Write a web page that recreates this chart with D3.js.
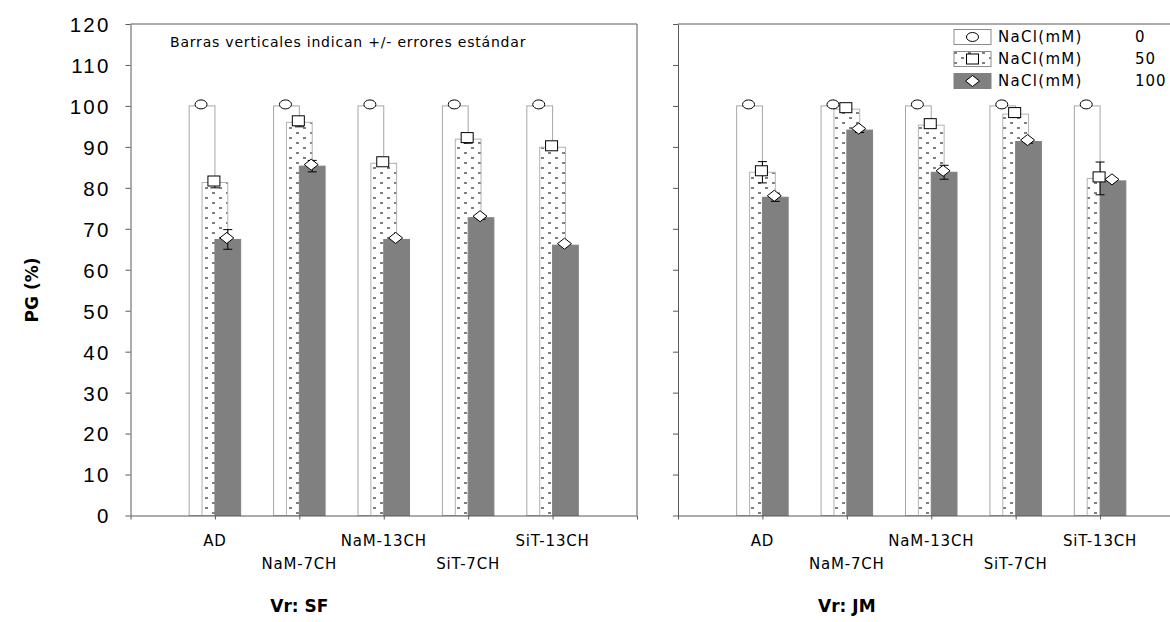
<!DOCTYPE html>
<html>
<head>
<meta charset="utf-8">
<script src="https://cdn.jsdelivr.net/npm/d3@7"></script>
<style>
  body { margin: 0; background: #fff; }
  svg { display: block; font-family: 'DejaVu Sans', sans-serif; }
  .ytick text { font-size: 20.5px; letter-spacing: 2.2px; fill: #000; }
  .cat { font-size: 15px; letter-spacing: 0.8px; fill: #000; }
  .domain, .tick line { stroke: #595959; }
</style>
</head>
<body>
<div id="chart"></div>
<script>
// datos
const categories = ['AD', 'NaM-7CH', 'NaM-13CH', 'SiT-7CH', 'SiT-13CH'];
const naclLevels = ['0', '50', '100'];
const yTicks = [0, 10, 20, 30, 40, 50, 60, 70, 80, 90, 100, 110, 120];

const sf0 = [100, 100, 100, 100, 100];
const sf50 = [81.3, 96.0, 86.0, 91.9, 89.9];
const sf100 = [67.4, 85.3, 67.4, 72.7, 66.0];
const sf50Err = [1.3, 1.1, 0.5, 1.0, 0.3];
const sf100Err = [2.4, 1.4, 0.3, 0.4, 0.3];

const jm0 = [100, 100, 100, 100, 100];
const jm50 = [83.8, 99.2, 95.3, 98.0, 82.3];
const jm100 = [77.7, 94.1, 83.8, 91.3, 81.7];
const jm50Err = [2.6, 0.4, 0.6, 0.8, 4.0];
const jm100Err = [1.0, 0.6, 1.7, 0.4, 0.3];

const width = 1170, height = 622;
const plotTop = 24, plotBottom = 515.5;

const svg = d3.select('#chart').append('svg')
  .attr('width', width)
  .attr('height', height);

const defs = svg.append('defs');
const pat = defs.append('pattern')
  .attr('id', 'dots')
  .attr('patternUnits', 'userSpaceOnUse')
  .attr('width', 14).attr('height', 10);
pat.append('rect').attr('width', 14).attr('height', 10).attr('fill', '#fff');
pat.append('rect').attr('x', 2).attr('y', 2).attr('width', 3).attr('height', 2).attr('fill', '#808080');
pat.append('rect').attr('x', 9).attr('y', 7).attr('width', 3).attr('height', 2).attr('fill', '#808080');

const y = d3.scaleLinear().domain([0, 120]).range([plotBottom, plotTop]);

const styles = [
  { fill: '#fff', stroke: '#a6a6a6', marker: 'circle' },
  { fill: 'url(#dots)', stroke: '#b3b3b3', marker: 'square' },
  { fill: '#808080', stroke: '#808080', marker: 'diamond' }
];

function marker(g, type, cx, cy) {
  if (type === 'circle') {
    g.append('ellipse').attr('cx', cx).attr('cy', cy).attr('rx', 6).attr('ry', 4.5)
      .attr('fill', '#fff').attr('stroke', '#000').attr('stroke-width', 1);
  } else if (type === 'square') {
    g.append('rect').attr('x', cx - 6).attr('y', cy - 5).attr('width', 12).attr('height', 10)
      .attr('fill', '#fff').attr('stroke', '#000').attr('stroke-width', 1);
  } else {
    g.append('path')
      .attr('d', `M${cx - 7},${cy}L${cx},${cy - 5.5}L${cx + 7},${cy}L${cx},${cy + 5.5}Z`)
      .attr('fill', '#fff').attr('stroke', '#000').attr('stroke-width', 1);
  }
}

function panel(x0, x1, series, errs, showLabels, title) {
  const g = svg.append('g');
  const x = d3.scalePoint().domain(categories).range([x0, x1]).padding(1);
  const step = x.step();
  const bw = step * 0.305;
  const off = bw / 2;

  // marco
  g.append('path')
    .attr('d', `M${x0},${plotTop}H${x1}V${plotBottom}`)
    .attr('fill', 'none').attr('stroke', '#595959');

  // barras
  series.forEach((vals, s) => {
    g.selectAll(null)
      .data(vals)
      .enter()
      .append('rect')
      .attr('x', (d, i) => x(categories[i]) + (s - 1) * off - bw / 2)
      .attr('y', d => y(d))
      .attr('width', bw)
      .attr('height', d => y(0) - y(d))
      .attr('fill', styles[s].fill)
      .attr('stroke', styles[s].stroke)
      .attr('stroke-width', 1);
  });

  // barras de error
  errs.forEach((e, k) => {
    const s = k + 1;
    series[s].forEach((v, i) => {
      if (e[i] < 0.35) return;
      const cx = x(categories[i]) + (s - 1) * off;
      g.append('line').attr('x1', cx).attr('x2', cx)
        .attr('y1', y(v + e[i])).attr('y2', y(v - e[i]))
        .attr('stroke', '#000');
      [v + e[i], v - e[i]].forEach(t => {
        g.append('line').attr('x1', cx - 4.5).attr('x2', cx + 4.5)
          .attr('y1', y(t)).attr('y2', y(t)).attr('stroke', '#000');
      });
    });
  });

  // marcadores
  series.forEach((vals, s) => {
    vals.forEach((v, i) => {
      marker(g, styles[s].marker, x(categories[i]) + (s - 1) * off - 1, y(v) - 1.5);
    });
  });

  // eje y
  const yAxis = d3.axisLeft(y).tickValues(yTicks).tickSize(5).tickSizeOuter(0)
    .tickFormat(showLabels ? d3.format('d') : '');
  const ya = g.append('g')
    .attr('class', 'ytick')
    .attr('transform', `translate(${x0},0)`)
    .call(yAxis);
  ya.selectAll('text').attr('x', -20).attr('dy', '0.36em');

  // eje x
  const xAxis = d3.axisBottom(x).tickSize(4).tickSizeOuter(4).tickFormat('');
  g.append('g')
    .attr('transform', `translate(0,${plotBottom})`)
    .call(xAxis);

  g.selectAll('text.cat')
    .data(categories)
    .enter()
    .append('text')
    .attr('class', 'cat')
    .attr('x', d => x(d))
    .attr('y', (d, i) => i % 2 === 0 ? 546 : 569)
    .attr('text-anchor', 'middle')
    .text(d => d);

  g.append('text')
    .attr('x', x(categories[1]))
    .attr('y', 612)
    .attr('text-anchor', 'middle')
    .style('font-size', '17px')
    .style('font-weight', 'bold')
    .text(title);
}

panel(130.5, 637, [sf0, sf50, sf100], [sf50Err, sf100Err], true, 'Vr: SF');
panel(678, 1184.5, [jm0, jm50, jm100], [jm50Err, jm100Err], false, 'Vr: JM');

svg.append('text')
  .attr('transform', 'translate(38,290) rotate(-90)')
  .attr('text-anchor', 'middle')
  .style('font-size', '17px')
  .style('font-weight', 'bold')
  .text('PG (%)');

svg.append('text')
  .attr('x', 170)
  .attr('y', 47)
  .style('font-size', '14px')
  .style('letter-spacing', '0.8px')
  .text('Barras verticales indican +/- errores estándar');

// leyenda
const leg = svg.append('g');
naclLevels.forEach((lv, i) => {
  const cy = 37 + i * 22;
  leg.append('rect')
    .attr('x', 954).attr('y', cy - 7.5)
    .attr('width', 37).attr('height', 15)
    .attr('fill', styles[i].fill)
    .attr('stroke', i === 2 ? '#808080' : '#8c8c8c');
  marker(leg, styles[i].marker, 972.5, cy);
  leg.append('text')
    .attr('x', 998).attr('y', cy + 5)
    .style('font-size', '15px')
    .style('letter-spacing', '1.3px')
    .text('NaCl(mM)');
  leg.append('text')
    .attr('x', 1135).attr('y', cy + 5)
    .style('font-size', '15px')
    .style('letter-spacing', '1px')
    .text(lv);
});
</script>
</body>
</html>
